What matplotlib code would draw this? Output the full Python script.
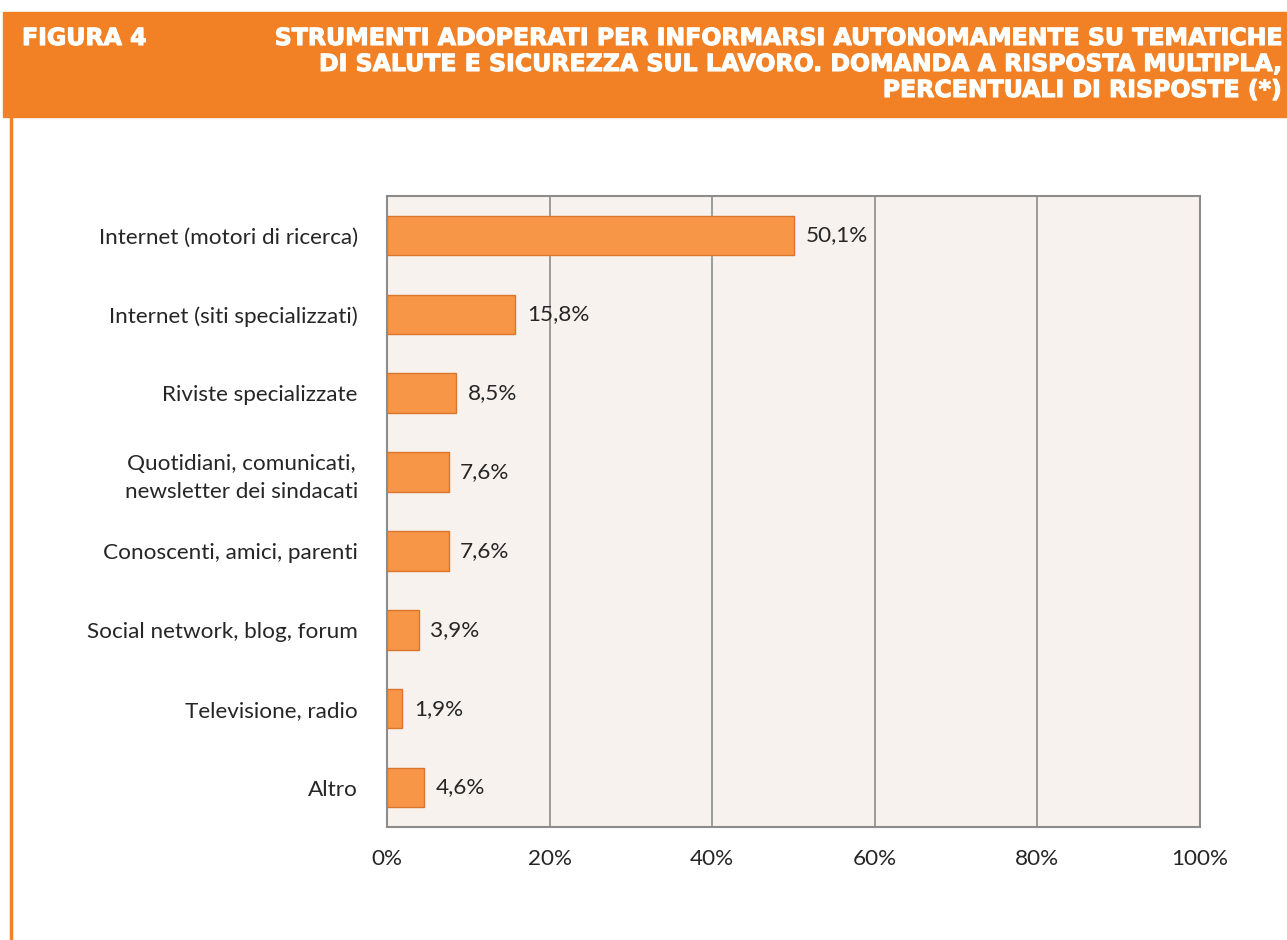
import matplotlib.pyplot as plt
import matplotlib.patheffects as pe
from matplotlib.patches import Rectangle
from matplotlib.lines import Line2D

categories = [
    "Internet (motori di ricerca)",
    "Internet (siti specializzati)",
    "Riviste specializzate",
    "Quotidiani, comunicati,\nnewsletter dei sindacati",
    "Conoscenti, amici, parenti",
    "Social network, blog, forum",
    "Televisione, radio",
    "Altro",
]
values = [50.1, 15.8, 8.5, 7.6, 7.6, 3.9, 1.9, 4.6]
xticks = [0, 20, 40, 60, 80, 100]
title_lines = [
    "STRUMENTI ADOPERATI PER INFORMARSI AUTONOMAMENTE SU TEMATICHE",
    "DI SALUTE E SICUREZZA SUL LAVORO. DOMANDA A RISPOSTA MULTIPLA,",
    "PERCENTUALI DI RISPOSTE (*)",
]

orange = "#F28125"
W, H = 1287, 940
fig = plt.figure(figsize=(W / 100, H / 100), dpi=100)

# header band and left rule
fig.patches.append(Rectangle((3 / W, 1 - 117 / H), 1 - 3 / W, 105 / H,
                             transform=fig.transFigure, color=orange, zorder=0))
fig.lines.append(Line2D([10.5 / W, 10.5 / W], [0, 1 - 117 / H],
                        transform=fig.transFigure, color=orange, lw=2.5))

heavy = [pe.withStroke(linewidth=0.8, foreground="white")]
title_font = dict(family="DejaVu Sans", weight="bold", color="white", size=17,
                  path_effects=heavy)
fig.text(22 / W, 1 - 38 / H, "FIGURA 4", ha="left", va="center", **title_font)
for i, line in enumerate(title_lines):
    fig.text(1282 / W, 1 - (38 + 26 * i) / H, line, ha="right", va="center", **title_font)

ax = fig.add_axes([387 / W, 1 - 827 / H, (1200 - 387) / W, (827 - 196) / H])
ax.set_facecolor("#F7F2EE")

lab_font = "Lato"
lab_size = 16.2

y = list(range(len(categories)))
ax.barh(y, values, height=0.5, color="#F79646", edgecolor="#D9752C", linewidth=1, zorder=3)
for yi, v in zip(y, values):
    ax.text(v + 1.4, yi, f"{v:.1f}%".replace(".", ","), va="center", ha="left",
            fontsize=lab_size, family=lab_font, color="#262626", zorder=4)

ax.set_ylim(len(categories) - 0.5, -0.5)
ax.set_xlim(0, 100)
ax.set_xticks(xticks)
ax.set_xticklabels([f"{t}%" for t in xticks])
ax.set_yticks(y)
ax.set_yticklabels(categories, multialignment="center", linespacing=1.5)
ax.grid(axis="x", color="#8C8C8C", lw=1.2, zorder=1)
ax.tick_params(length=0, labelsize=lab_size, colors="#262626")
ax.tick_params(axis="x", pad=16)
ax.tick_params(axis="y", pad=21)
for lab in ax.get_xticklabels() + ax.get_yticklabels():
    lab.set_family(lab_font)
for s in ax.spines.values():
    s.set_color("#8C8C8C")
    s.set_linewidth(1.5)

fig.savefig("out.png", dpi=100)
